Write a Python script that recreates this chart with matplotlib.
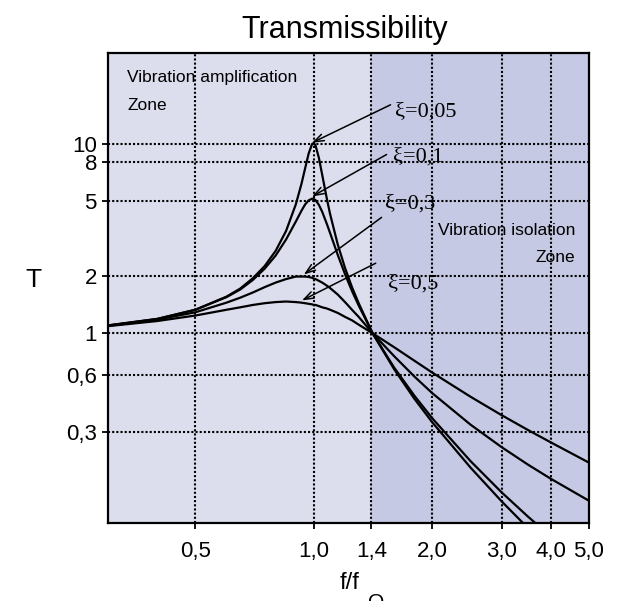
import matplotlib
matplotlib.use("Agg")
import matplotlib.pyplot as plt

# frequency ratio f/fo and transmissibility
ratio = [0.3, 0.4, 0.5, 0.6, 0.65, 0.7, 0.75, 0.8, 0.85, 0.9, 0.93, 0.95, 0.97, 0.99, 1.0,
         1.01, 1.03, 1.05, 1.08, 1.1, 1.15, 1.2, 1.25, 1.3, 1.41, 1.6, 1.8, 2.0, 2.5, 3.0,
         3.5, 4.0, 5.0]
t_005 = [1.10, 1.19, 1.33, 1.56, 1.72, 1.95, 2.26, 2.72, 3.46, 4.78, 6.12, 7.38, 8.85, 9.95, 10.05,
         9.76, 8.40, 6.85, 5.07, 4.24, 2.94, 2.21, 1.75, 1.44, 1.00, 0.646, 0.452, 0.339, 0.196, 0.130,
         0.094, 0.072, 0.047]
t_01 = [1.10, 1.19, 1.33, 1.55, 1.70, 1.91, 2.19, 2.57, 3.12, 3.88, 4.42, 4.77, 5.02, 5.12, 5.10,
        5.03, 4.75, 4.37, 3.75, 3.37, 2.59, 2.05, 1.67, 1.40, 1.00, 0.659, 0.469, 0.356, 0.212, 0.145,
        0.108, 0.085, 0.059]
t_03 = [1.095, 1.18, 1.29, 1.45, 1.54, 1.64, 1.75, 1.85, 1.93, 1.99, 1.99, 1.99, 1.98, 1.96, 1.94,
        1.93, 1.89, 1.85, 1.78, 1.73, 1.60, 1.46, 1.33, 1.22, 1.00, 0.757, 0.592, 0.483, 0.330, 0.251,
        0.203, 0.171, 0.131]
t_05 = [1.09, 1.16, 1.24, 1.33, 1.37, 1.41, 1.44, 1.46, 1.47, 1.46, 1.45, 1.44, 1.43, 1.42, 1.41,
        1.41, 1.39, 1.37, 1.35, 1.33, 1.28, 1.22, 1.17, 1.11, 1.00, 0.844, 0.717, 0.620, 0.463, 0.370,
        0.309, 0.266, 0.208]

x_ticks = [0.5, 1.0, 1.4, 2.0, 3.0, 4.0, 5.0]
x_tick_labels = ["0,5", "1,0", "1,4", "2,0", "3,0", "4,0", "5,0"]
y_ticks = [0.3, 0.6, 1, 2, 5, 8, 10]
y_tick_labels = ["0,3", "0,6", "1", "2", "5", "8", "10"]

SANS = ["Liberation Sans", "DejaVu Sans"]
SERIF = ["Liberation Serif", "DejaVu Serif"]

fig = plt.figure(figsize=(6.2, 6.01), dpi=100)
ax = fig.add_axes([108 / 620, 1 - 523 / 601, 481 / 620, 470 / 601])
ax.set_xscale("log")
ax.set_yscale("log")
ax.set_xlim(0.3, 5.0)
ax.set_ylim(0.1, 30)

# zones
ax.axvspan(0.3, 1.4, color="#dcdeee", zorder=0)
ax.axvspan(1.4, 5.0, color="#c5c9e3", zorder=0)

# dotted grid
for xv in x_ticks[:-1]:
    ax.axvline(xv, color="black", lw=1.5, linestyle=(0, (1, 1)), zorder=1)
for yv in y_ticks:
    ax.axhline(yv, color="black", lw=1.5, linestyle=(0, (1, 1)), zorder=1)

for t in (t_005, t_01, t_03, t_05):
    ax.plot(ratio, t, color="black", lw=1.6, zorder=3)

# damping labels with arrows
arrow = dict(arrowstyle="->,head_length=0.7,head_width=0.25", color="black", lw=1.1,
             shrinkA=0, shrinkB=0)
labels = [("ξ=0,05", (0.99, 10.1), (1.566, 16.0), (1.61, 14.7)),
          ("ξ=0,1", (0.99, 5.26), (1.53, 8.75), (1.585, 8.5)),
          ("ξ=0,3", (0.943, 2.04), (1.486, 4.08), (1.52, 4.77)),
          ("ξ=0,5", (0.933, 1.49), (1.436, 2.34), (1.54, 1.82))]
for txt, head, tail, pos in labels:
    ax.annotate("", xy=head, xytext=tail, arrowprops=arrow, zorder=4)
    ax.text(pos[0], pos[1], txt, family=SERIF, fontsize=16, ha="left", va="center", zorder=4)

zone_kw = dict(transform=ax.transAxes, family=SANS, fontsize=12.5, va="center")
ax.text(0.04, 0.947, "Vibration amplification", ha="left", **zone_kw)
ax.text(0.04, 0.889, "Zone", ha="left", **zone_kw)
ax.text(0.971, 0.623, "Vibration isolation", ha="right", **zone_kw)
ax.text(0.971, 0.564, "Zone", ha="right", **zone_kw)

ax.set_xticks(x_ticks)
ax.set_xticklabels(x_tick_labels, family=SANS, fontsize=16)
ax.set_yticks(y_ticks)
ax.set_yticklabels(y_tick_labels, family=SANS, fontsize=16)
ax.minorticks_off()
ax.tick_params(axis="both", direction="out", length=4, width=1.3, color="black")
ax.tick_params(axis="x", pad=9)
ax.tick_params(axis="y", pad=4)
for s in ax.spines.values():
    s.set_linewidth(1.6)
    s.set_zorder(5)

fig.text(345 / 620, 1 - 30 / 601, "Transmissibility", family=SANS, fontsize=22,
         ha="center", va="center")
fig.text(33 / 620, 1 - 280 / 601, "T", family=SANS, fontsize=19, ha="center", va="center")
fig.text(350 / 620, 1 - 583 / 601, "f/f", family=SANS, fontsize=17, ha="center", va="center")
fig.text(376 / 620, 1 - 603 / 601, "O", family=SANS, fontsize=15, ha="center", va="center")

fig.savefig("out.png", dpi=100)
